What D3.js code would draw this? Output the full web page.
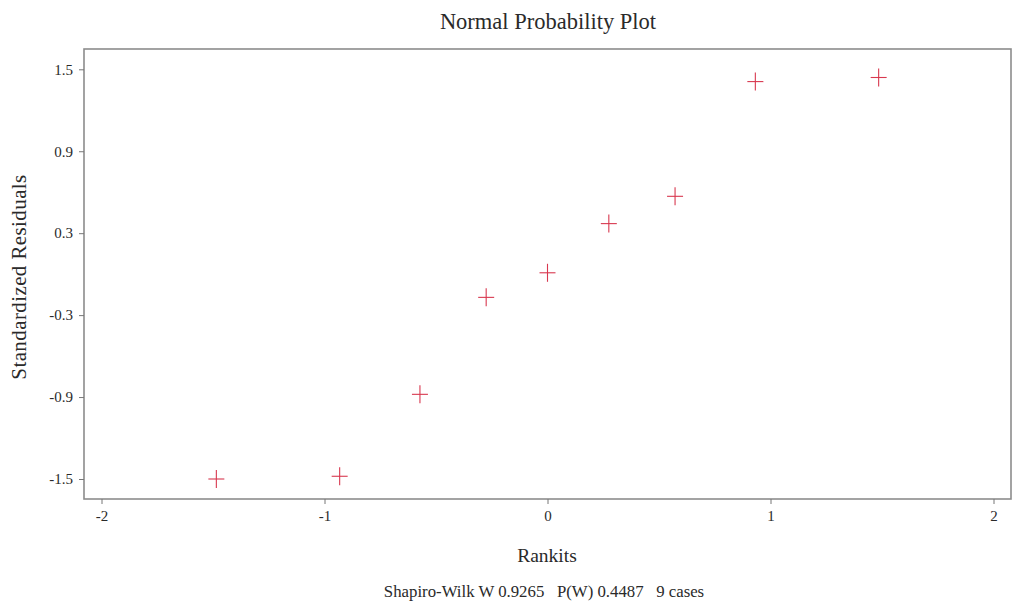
<!DOCTYPE html>
<html>
<head>
<meta charset="utf-8">
<script src="https://cdn.jsdelivr.net/npm/d3@7"></script>
<style>
	body { margin: 0; background: #fff; }
	svg text { font-family: "Liberation Serif", "DejaVu Serif", serif; fill: #2a2a2a; }
	.axis path { display: none; }
	.axis line { stroke: #777; }
</style>
</head>
<body>
<svg id="chart" width="1013" height="608"></svg>
<script>
// rankits (normal scores) and standardized residuals, 9 cases
var rankits = [-1.485, -0.932, -0.572, -0.275, 0.0, 0.275, 0.572, 0.932, 1.485];
var residuals = [-1.50, -1.48, -0.88, -0.17, 0.01, 0.37, 0.57, 1.41, 1.44];

var xTicks = [-2, -1, 0, 1, 2];
var yTicks = [-1.5, -0.9, -0.3, 0.3, 0.9, 1.5];

var title = 'Normal Probability Plot',
	xTitle = 'Rankits',
	yTitle = 'Standardized Residuals',
	footnote = 'Shapiro-Wilk W 0.9265   P(W) 0.4487   9 cases';

var frame = {left: 84, right: 1011, top: 49, bottom: 499};

var svg = d3.select('#chart');

var x = d3.scaleLinear().domain([-2, 2]).range([101.5, 993.5]);
var y = d3.scaleLinear().domain([-1.5, 1.5]).range([479, 69.3]);

// plain hyphen for negatives, like the original
var fmtX = function(d){ return d3.format('d')(d).replace('\u2212', '-'); };
var fmtY = function(d){ return d3.format('.1f')(d).replace('\u2212', '-'); };

// frame
svg.append('rect')
	.attr('x', frame.left)
	.attr('y', frame.top)
	.attr('width', frame.right - frame.left)
	.attr('height', frame.bottom - frame.top)
	.attr('fill', 'none')
	.attr('stroke', '#8c8c8c')
	.attr('stroke-width', 1.6);

// axes
var xAxis = svg.append('g')
	.attr('class', 'axis')
	.attr('transform', 'translate(0,' + frame.bottom + ')')
	.call(d3.axisBottom(x).tickValues(xTicks).tickSize(5).tickPadding(6).tickFormat(fmtX));

xAxis.selectAll('text')
	.style('font-size', '15px');

var yAxis = svg.append('g')
	.attr('class', 'axis')
	.attr('transform', 'translate(' + frame.left + ',0)')
	.call(d3.axisLeft(y).tickValues(yTicks).tickSize(5).tickPadding(6).tickFormat(fmtY));

yAxis.selectAll('text')
	.style('font-size', '15px');

// points as plus markers
var pts = svg.selectAll('g.pt').data(rankits);

var pt = pts.enter()
	.append('g')
	.attr('class', 'pt')
	.attr('transform', function(d, i){ return 'translate(' + x(d) + ',' + y(residuals[i]) + ')'; });

pt.append('line')
	.attr('x1', -8).attr('x2', 8)
	.attr('y1', 0).attr('y2', 0);

pt.append('line')
	.attr('x1', 0).attr('x2', 0)
	.attr('y1', -9).attr('y2', 9);

pt.selectAll('line')
	.attr('stroke', '#d8384f')
	.attr('stroke-width', 1.1);

// texts
svg.append('text')
	.attr('x', 548)
	.attr('y', 29)
	.attr('text-anchor', 'middle')
	.style('font-size', '22.5px')
	.text(title);

svg.append('text')
	.attr('x', 547)
	.attr('y', 562)
	.attr('text-anchor', 'middle')
	.style('font-size', '19.5px')
	.text(xTitle);

svg.append('text')
	.attr('transform', 'translate(26,' + 277 + ') rotate(-90)')
	.attr('text-anchor', 'middle')
	.style('font-size', '21px')
	.style('letter-spacing', '0.4px')
	.text(yTitle);

svg.append('text')
	.attr('x', 544)
	.attr('y', 597)
	.attr('text-anchor', 'middle')
	.style('font-size', '16.8px')
	.style('white-space', 'pre')
	.text(footnote);
</script>
</body>
</html>
